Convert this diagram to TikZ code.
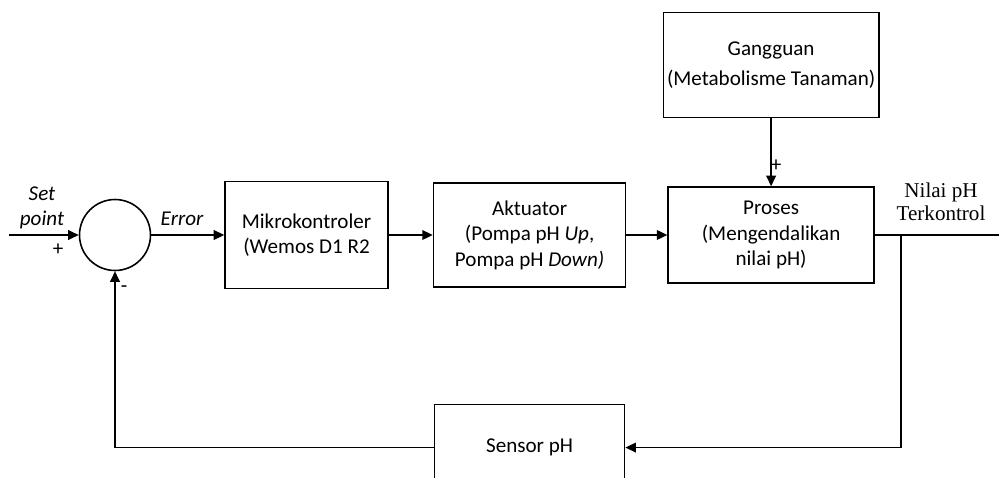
\documentclass[tikz,border=0pt]{standalone}
\usepackage{fontspec}
\setmainfont{Carlito}
\newfontfamily\labelserif{Liberation Serif}
\usetikzlibrary{arrows.meta,positioning,calc}

\begin{document}
\begin{tikzpicture}[
    x=0.02cm, y=-0.02cm,
    font=\fontsize{12}{14.5}\selectfont,
    box/.style={rectangle, draw, line width=0.9pt, align=center, inner sep=2pt},
    sumnode/.style={circle, draw, line width=0.9pt, minimum size=1.42cm, inner sep=0pt},
    connector/.style={-{Triangle[length=6pt,width=5.5pt]}, line width=0.9pt},
    wire/.style={line width=0.9pt}
]
\clip (0,0) rectangle (999,477);

    % Nodes
    \node[sumnode] (S) at (115,235) {};
    \node[box, minimum width=3.26cm, minimum height=2.14cm, right=1.46cm of S] (B1) {Mikrokontroler\\(Wemos D1 R2};
    \node[box, minimum width=3.84cm, minimum height=2.08cm, right=0.88cm of B1] (B2) {Aktuator\\(Pompa pH \textit{Up},\\Pompa pH \textit{Down)}};
    \node[box, minimum width=4.12cm, minimum height=1.92cm, right=0.82cm of B2] (B3) {Proses\\(Mengendalikan\\nilai pH)};
    \node[box, minimum width=4.18cm, minimum height=2.1cm, above=1.36cm of B3, font=\fontsize{12}{17}\selectfont] (G) {Gangguan\\(Metabolisme Tanaman)};
    \node[box, minimum width=3.8cm, minimum height=1.72cm, below=2.32cm of B2] (B4) {Sensor pH};

    % Free ends
    \coordinate[left=1.4cm of S] (SP);
    \coordinate[right=0.52cm of B3] (BR);
    \coordinate (OUT) at (999,235);

    % Labels
    \node[font=\itshape\fontsize{12}{14}\selectfont, align=center] (LSP) at (42,208) {Set\\point};
    \node (LP1) at (58,250) {+};
    \node[font=\itshape\fontsize{12}{14}\selectfont] (LE) at (182,219) {Error};
    \node (LM) at (124,289) {-};
    \node (LP2) at (776,166) {+};
    \node[font=\labelserif\fontsize{12}{13}\selectfont, align=center] (LOUT) at (941,202) {Nilai pH\\Terkontrol};

    % Connections
    \draw[connector] (SP) -- (S);
    \draw[connector] (S) -- (B1);
    \draw[connector] (B1) -- (B2);
    \draw[connector] (B2) -- (B3);
    \draw[connector] (G) -- (B3);
    \draw[wire] (B3) -- (OUT);
    \draw[connector] (BR) |- (B4);
    \draw[connector] (B4) -| (S);
\end{tikzpicture}
\end{document}
